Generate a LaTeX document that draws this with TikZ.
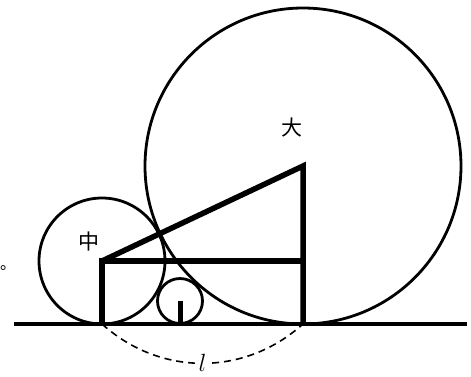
\documentclass[tikz,border=0pt]{standalone}
\usepackage{fontspec}
\newfontfamily\cjk{Noto Sans CJK SC}
\usepackage{tikz}
\usetikzlibrary{positioning,calc}

\begin{document}
\begin{tikzpicture}[
  x=1pt, y=-1pt,
  rim/.style={line width=2.8pt},
  bar/.style={line width=5.5pt},
  ground/.style={line width=4pt},
  gap/.style={dashed, line width=1.6pt, dash pattern=on 7pt off 5pt},
  every node/.style={inner sep=0pt, font=\cjk\fontsize{21}{21}\selectfont}
]
\useasboundingbox (0,0) rectangle (471,376);

% centres and foot points
\coordinate (big)   at (303,166);
\coordinate (mid)   at (102,261);
\coordinate (small) at (180,301);
\coordinate (footA) at (102,324);
\coordinate (footB) at (303,324);
\coordinate (footS) at (180,324);
\coordinate (corner) at (303,261);
\coordinate (left)  at (14,324);
\coordinate (right) at (467,324);

% circles
\draw[rim] (big)   circle[radius=158pt];
\draw[rim] (mid)   circle[radius=63pt];
\draw[rim] (small) circle[radius=22.5pt];

% ground
\draw[ground] (left) -- (right);

% radii and triangle
\draw[bar] (footA) -- (mid) -- (corner);
\draw[bar] (mid) -- (big) -- (footB);
\draw[line width=5pt] (small) -- (footS);

% labels
\node (lblbig) at (292,128) {大};
\node (lblmid) at (89,242)  {中};
\node[anchor=base west, font=\cjk\fontsize{16}{16}\selectfont] (dot) at (0,269) {。};

\draw[gap] (footA) to[bend right=42] node[fill=white, inner xsep=4pt, font=\fontsize{24}{24}\selectfont] (len) {$l$} (footB);
\end{tikzpicture}
\end{document}
